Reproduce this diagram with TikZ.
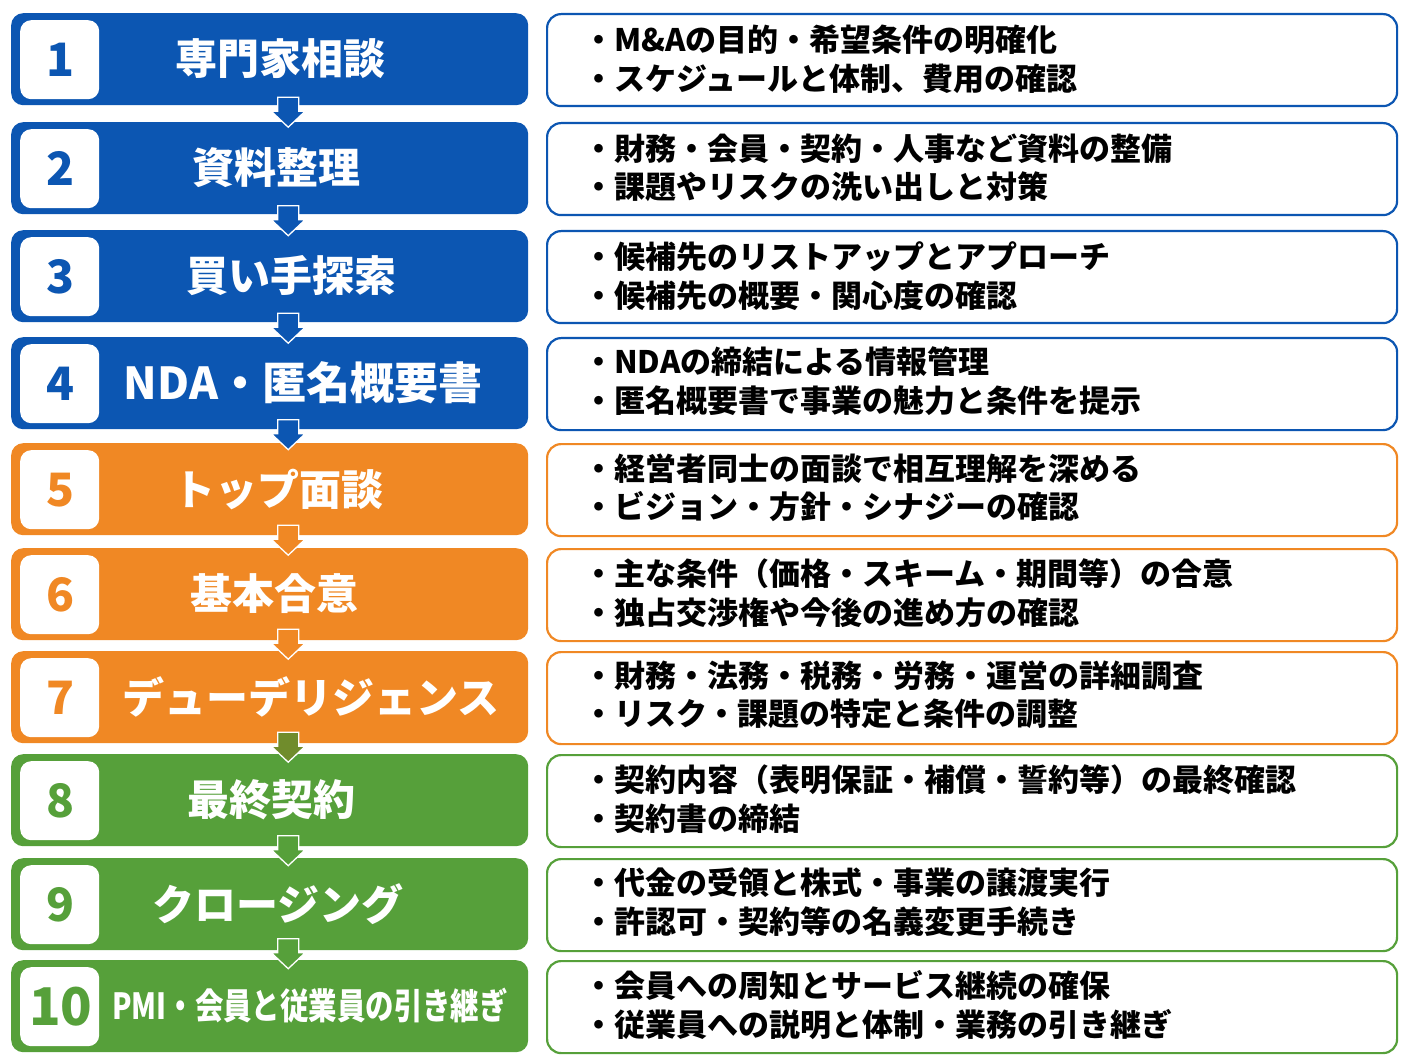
\documentclass[tikz,border=0pt]{standalone}
\usepackage{fontspec}
\setmainfont{Noto Sans CJK JP}
\usetikzlibrary{calc}
\definecolor{cblue}{RGB}{12,86,178}
\definecolor{corange}{RGB}{240,136,36}
\definecolor{cgreen}{RGB}{86,160,58}
\definecolor{cmix}{RGB}{112,140,44}
\begin{document}
\begin{tikzpicture}[x=1pt,y=-1pt,
  stepbox/.style={rounded corners=12pt, minimum width=517pt, minimum height=92pt,
    anchor=north west, inner sep=0pt, fill=#1},
  numbox/.style={rounded corners=11pt, minimum width=79pt, minimum height=79pt,
    anchor=north west, inner sep=0pt, fill=white},
  numtext/.style={text=#1, font=\fontsize{46}{50}\selectfont\bfseries, inner sep=0pt},
  titletext/.style={text=white, font=\fontsize{42}{50}\selectfont\bfseries, inner sep=0pt},
  infobox/.style={rounded corners=14pt, minimum width=850pt, minimum height=92pt,
    anchor=north west, inner sep=0pt, draw=#1, line width=2.2pt, fill=white},
  infotext/.style={anchor=west, align=left, inner sep=0pt, text=black,
    font=\fontsize{31}{38.5}\selectfont\bfseries},
  flowarrow/.pic={\filldraw[fill=#1, draw=white, line width=1.3pt]
    (-10.5,-16.5) -- (10.5,-16.5) -- (10.5,-2.5) -- (17,-2.5) -- (0,13.5)
    -- (-17,-2.5) -- (-10.5,-2.5) -- cycle;}
]
\useasboundingbox (0,0) rectangle (1408,1056);
\fill[white] (0,0) rectangle (1408,1056);

% left step boxes
\node[stepbox=cblue]   (L1)  at (11,13)  {};
\node[stepbox=cblue]   (L2)  at (11,122) {};
\node[stepbox=cblue]   (L3)  at (11,230) {};
\node[stepbox=cblue]   (L4)  at (11,337) {};
\node[stepbox=corange] (L5)  at (11,443) {};
\node[stepbox=corange] (L6)  at (11,548) {};
\node[stepbox=corange] (L7)  at (11,651) {};
\node[stepbox=cgreen]  (L8)  at (11,754) {};
\node[stepbox=cgreen]  (L9)  at (11,858) {};
\node[stepbox=cgreen]  (L10) at (11,960) {};

% number boxes
\node[numbox] (N1)  at (20,20)  {};
\node[numbox] (N2)  at (20,129) {};
\node[numbox] (N3)  at (20,237) {};
\node[numbox] (N4)  at (20,344) {};
\node[numbox] (N5)  at (20,450) {};
\node[numbox] (N6)  at (20,555) {};
\node[numbox] (N7)  at (20,658) {};
\node[numbox] (N8)  at (20,761) {};
\node[numbox] (N9)  at (20,865) {};
\node[numbox] (N10) at (20,967) {};

\node[numtext=cblue]   (n1)  at ($(N1.center)+(1,0)$)  {1};
\node[numtext=cblue]   (n2)  at ($(N2.center)+(1,0)$)  {2};
\node[numtext=cblue]   (n3)  at ($(N3.center)+(1,0)$)  {3};
\node[numtext=cblue]   (n4)  at ($(N4.center)+(1,0)$)  {4};
\node[numtext=corange] (n5)  at ($(N5.center)+(1,0)$)  {5};
\node[numtext=corange] (n6)  at ($(N6.center)+(1,0)$)  {6};
\node[numtext=corange] (n7)  at ($(N7.center)+(1,0)$)  {7};
\node[numtext=cgreen]  (n8)  at ($(N8.center)+(1,0)$)  {8};
\node[numtext=cgreen]  (n9)  at ($(N9.center)+(1,0)$)  {9};
\node[numtext=cgreen, font=\fontsize{52}{56}\selectfont\bfseries] (n10) at ($(N10.center)+(1,0)$) {10};

% titles
\node[titletext] (t1)  at (280,59)  {専門家相談};
\node[titletext] (t2)  at (276,168) {資料整理};
\node[titletext] (t3)  at (291,276) {買い手探索};
\node[titletext, font=\fontsize{44}{50}\selectfont\bfseries] (t4)  at (303,383) {NDA・匿名概要書};
\node[titletext] (t5)  at (278,489) {トップ面談};
\node[titletext] (t6)  at (274,594) {基本合意};
\node[titletext] (t7)  at (311,697) {デューデリジェンス};
\node[titletext] (t8)  at (271,800) {最終契約};
\node[titletext] (t9)  at (278,904) {クロージング};
\node[titletext, font=\fontsize{36}{40}\selectfont\bfseries, xscale=0.79] (t10) at (310,1006) {PMI・会員と従業員の引き継ぎ};

% arrows between steps
\pic at ($(L1.south)!0.5!(L2.north)+(18.5,0)$) {flowarrow=cblue};
\pic at ($(L2.south)!0.5!(L3.north)+(18.5,0)$) {flowarrow=cblue};
\pic at ($(L3.south)!0.5!(L4.north)+(18.5,0)$) {flowarrow=cblue};
\pic at ($(L4.south)!0.5!(L5.north)+(18.5,0)$) {flowarrow=cblue};
\pic at ($(L5.south)!0.5!(L6.north)+(18.5,0)$) {flowarrow=corange};
\pic at ($(L6.south)!0.5!(L7.north)+(18.5,0)$) {flowarrow=corange};
\pic at ($(L7.south)!0.5!(L8.north)+(18.5,0)$) {flowarrow=cmix};
\pic at ($(L8.south)!0.5!(L9.north)+(18.5,0)$) {flowarrow=cgreen};
\pic at ($(L9.south)!0.5!(L10.north)+(18.5,0)$) {flowarrow=cgreen};

% right info boxes
\node[infobox=cblue]   (R1)  at (546,13)  {};
\node[infobox=cblue]   (R2)  at (546,122) {};
\node[infobox=cblue]   (R3)  at (546,230) {};
\node[infobox=cblue]   (R4)  at (546,337) {};
\node[infobox=corange] (R5)  at (546,443) {};
\node[infobox=corange] (R6)  at (546,548) {};
\node[infobox=corange] (R7)  at (546,651) {};
\node[infobox=cgreen]  (R8)  at (546,754) {};
\node[infobox=cgreen]  (R9)  at (546,858) {};
\node[infobox=cgreen]  (R10) at (546,960) {};

\node[infotext] (i1)  at (583,59)  {・M\&Aの目的・希望条件の明確化\\・スケジュールと体制、費用の確認};
\node[infotext] (i2)  at (583,168) {・財務・会員・契約・人事など資料の整備\\・課題やリスクの洗い出しと対策};
\node[infotext] (i3)  at (583,276) {・候補先のリストアップとアプローチ\\・候補先の概要・関心度の確認};
\node[infotext] (i4)  at (583,381) {・NDAの締結による情報管理\\・匿名概要書で事業の魅力と条件を提示};
\node[infotext] (i5)  at (583,488) {・経営者同士の面談で相互理解を深める\\・ビジョン・方針・シナジーの確認};
\node[infotext] (i6)  at (583,593) {・主な条件（価格・スキーム・期間等）の合意\\・独占交渉権や今後の進め方の確認};
\node[infotext] (i7)  at (583,695) {・財務・法務・税務・労務・運営の詳細調査\\・リスク・課題の特定と条件の調整};
\node[infotext] (i8)  at (583,799) {・契約内容（表明保証・補償・誓約等）の最終確認\\・契約書の締結};
\node[infotext] (i9)  at (583,902) {・代金の受領と株式・事業の譲渡実行\\・許認可・契約等の名義変更手続き};
\node[infotext] (i10) at (583,1005) {・会員への周知とサービス継続の確保\\・従業員への説明と体制・業務の引き継ぎ};
\end{tikzpicture}
\end{document}
